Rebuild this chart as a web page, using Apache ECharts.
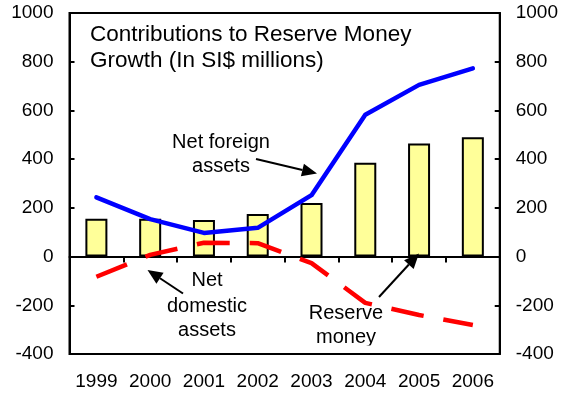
<!DOCTYPE html>
<html>
<head>
<meta charset="utf-8">
<script src="https://cdn.jsdelivr.net/npm/echarts@6/dist/echarts.min.js"></script>
<style>
  html, body { margin: 0; padding: 0; background: #fff; }
  #chart { width: 561px; height: 394px; }
</style>
</head>
<body>
<div id="chart"></div>
<script>
// Contributions to reserve money growth, SI$ millions
const years = ['1999', '2000', '2001', '2002', '2003', '2004', '2005', '2006'];
const reserveMoney = [155, 155, 150, 175, 220, 385, 464, 490];
const netForeignAssets = [243, 154, 97, 118, 252, 582, 705, 773];
const netDomesticAssets = [-83, 7, 57, 55, -27, -190, -240, -281];
const yTicks = { min: -400, max: 1000, step: 200 };

const FONT = '"Liberation Sans", Arial, sans-serif';

const chart = echarts.init(document.getElementById('chart'), null, { renderer: 'canvas' });

// arrow: shaft line plus a filled triangular head at (x2, y2)
function arrow(x1, y1, x2, y2) {
  const dx = x2 - x1, dy = y2 - y1;
  const len = Math.sqrt(dx * dx + dy * dy);
  const ux = dx / len, uy = dy / len;
  const hl = 15, hw = 6.5;
  const bx = x2 - ux * hl, by = y2 - uy * hl;
  return [
    { type: 'line', z: 100, shape: { x1: x1, y1: y1, x2: bx, y2: by },
      style: { stroke: '#000', lineWidth: 2 } },
    { type: 'polygon', z: 100,
      shape: { points: [[x2, y2], [bx - uy * hw, by + ux * hw], [bx + uy * hw, by - ux * hw]] },
      style: { fill: '#000' } }
  ];
}

function label(text, x, y, size, align) {
  return { type: 'text', z: 100,
    style: { text: text, x: x, y: y, font: size + 'px ' + FONT, fill: '#000',
             textAlign: align || 'center', textVerticalAlign: 'middle' } };
}

const yAxisCommon = {
  type: 'value',
  min: yTicks.min, max: yTicks.max, interval: yTicks.step,
  splitLine: { show: false },
  axisLine: { show: true, lineStyle: { color: '#000', width: 2 } },
  axisTick: { show: true, inside: true, length: 5, lineStyle: { color: '#000', width: 2 } },
  axisLabel: { color: '#000', fontSize: 19, fontFamily: FONT, margin: 16,
               formatter: function (v) { return String(v); } }
};

chart.setOption({
  animation: false,
  backgroundColor: '#fff',
  grid: { left: 69.5, right: 61, top: 13, bottom: 40, show: true,
          borderColor: '#000', borderWidth: 2, backgroundColor: 'transparent' },
  xAxis: [
    { type: 'category', data: years, position: 'bottom',
      axisLine: { show: false, onZero: false },
      axisTick: { show: false },
      axisLabel: { color: '#000', fontSize: 19, fontFamily: FONT, margin: 18,
                   interval: 0, hideOverlap: false } },
    { type: 'category', data: years, position: 'bottom',
      axisLine: { show: true, onZero: true, lineStyle: { color: '#000', width: 2 } },
      axisTick: { show: true, inside: false, length: 6, interval: 0,
                  lineStyle: { color: '#000', width: 2 } },
      axisLabel: { show: false } }
  ],
  yAxis: [
    Object.assign({}, yAxisCommon, { position: 'left' }),
    Object.assign({}, yAxisCommon, { position: 'right' })
  ],
  series: [
    { name: 'Reserve money', type: 'bar', data: reserveMoney, barWidth: 22,
      itemStyle: { color: '#FFFF99', borderColor: '#000', borderWidth: 2 } },
    { name: 'Net foreign assets', type: 'line', data: netForeignAssets, symbol: 'none',
      lineStyle: { color: '#0000FF', width: 4.5, cap: 'round', join: 'round' }, z: 5 },
    { name: 'Net domestic assets', type: 'line', data: netDomesticAssets, symbol: 'none',
      lineStyle: { color: '#FF0000', width: 4.5, type: [33, 20], cap: 'butt' }, z: 6 }
  ],
  graphic: [
    label('Contributions to Reserve Money', 90, 35, 22.5, 'left'),
    label('Growth (In SI$ millions)', 90, 61, 22.5, 'left'),
    label('Net foreign', 221, 142, 20),
    label('assets', 221, 166, 20),
    label('Net', 207, 280, 20),
    label('domestic', 207, 306, 20),
    label('assets', 207, 330, 20),
    label('Reserve', 346, 313, 20),
    label('money', 346, 337, 20),
    // mask the lower part of the last label line
    { type: 'rect', z: 101, shape: { x: 300, y: 345.5, width: 95, height: 7 },
      style: { fill: '#fff' } }
  ].concat(arrow(256, 159, 317, 173.5))
   .concat(arrow(183, 293.5, 147.5, 270))
   .concat(arrow(379, 297, 419, 253.5))
});
</script>
</body>
</html>
